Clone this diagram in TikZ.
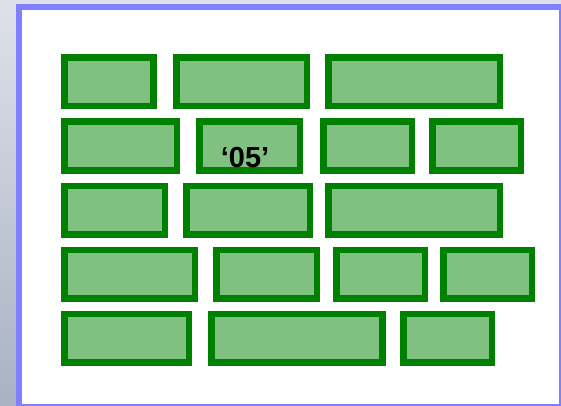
\documentclass[tikz,border=0pt]{standalone}
\usepackage{fontspec}
\setmainfont{Liberation Sans}
\usepackage{xcolor}
\usepackage{tikz}
\usetikzlibrary{positioning}
\definecolor{bgtop}{RGB}{222, 225, 233}
\definecolor{bgbottom}{RGB}{168, 178, 195}
\definecolor{frameblue}{RGB}{128, 128, 255}
\definecolor{brickline}{RGB}{0, 128, 0}
\definecolor{brickfill}{RGB}{128, 192, 128}

\begin{document}
\begin{tikzpicture}[
    x=1pt, y=-1pt,
    brick/.style={rectangle, draw=brickline, fill=brickfill, line width=6.5pt, minimum height=48.5pt, inner sep=0pt, outer sep=0pt},
    bricklabel/.style={font=\fontsize{29}{34}\selectfont\bfseries, text=black}
]
\useasboundingbox (0,0) rectangle (561,406);

% Background and frame
\shade[top color=bgtop, bottom color=bgbottom] (0,0) rectangle (561,406);
\fill[frameblue] (16,4) rectangle (561,406);
\fill[white] (22,10) rectangle (559,404);

% Row 1
\node[brick, minimum width=89pt] (b11) at (109,82) {};
\node[brick, minimum width=130.2pt] (b12) at (241.7,82) {};
\node[brick, minimum width=171.2pt] (b13) at (414.2,82) {};

% Row 2
\node[brick, minimum width=112.2pt] (b21) at (120.7,146) {};
\node[brick, minimum width=100.5pt] (b22) at (249.5,146) {};
\node[brick, minimum width=88.5pt] (b23) at (367.5,146) {};
\node[brick, minimum width=88.5pt] (b24) at (476.8,146) {};

% Row 3
\node[brick, minimum width=100.5pt] (b31) at (114.8,210) {};
\node[brick, minimum width=123.5pt] (b32) at (248.3,210) {};
\node[brick, minimum width=171.2pt] (b33) at (414.2,210) {};

% Row 4
\node[brick, minimum width=130.2pt] (b41) at (129.7,274) {};
\node[brick, minimum width=100.5pt] (b42) at (266.8,274) {};
\node[brick, minimum width=88.5pt] (b43) at (380.8,274) {};
\node[brick, minimum width=88.5pt] (b44) at (487.5,274) {};

% Row 5
\node[brick, minimum width=124.2pt] (b51) at (126.7,338) {};
\node[brick, minimum width=171.2pt] (b52) at (296.9,338) {};
\node[brick, minimum width=88.8pt] (b53) at (447.7,338) {};

% Label
\node[bricklabel] (lbl) at (245,157.5) {‘05’};

\end{tikzpicture}
\end{document}
